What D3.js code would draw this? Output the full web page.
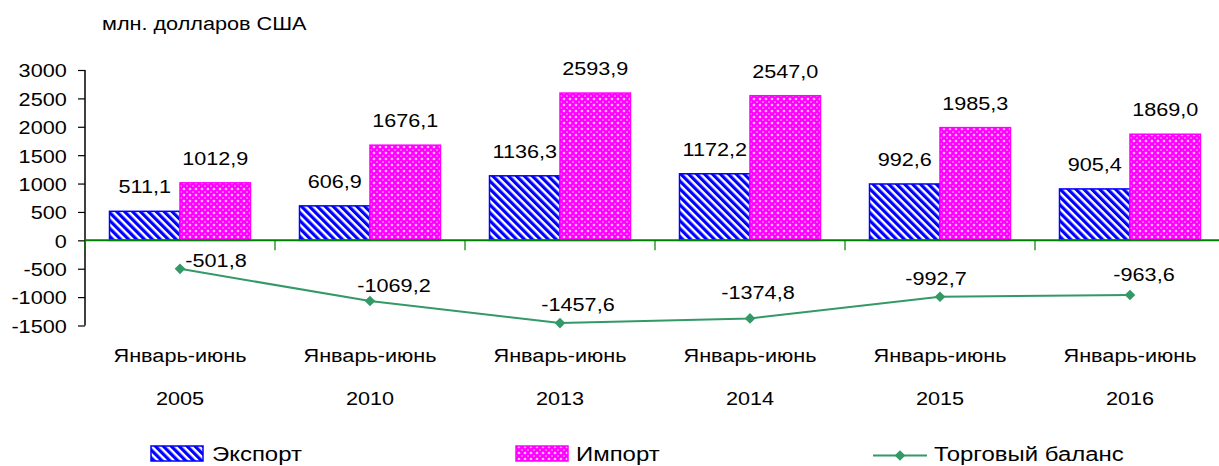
<!DOCTYPE html>
<html>
<head>
<meta charset="utf-8">
<script src="https://cdn.jsdelivr.net/npm/d3@7"></script>
<style>
  html, body { margin: 0; padding: 0; background: #fff; }
  svg text { font-family: "Liberation Sans", Arial, sans-serif; font-size: 19px; fill: #000; }
  svg .legend text { font-size: 21px; }
</style>
</head>
<body>
<svg id="chart"></svg>
<script>
// data
const periods = ['2005', '2010', '2013', '2014', '2015', '2016'];
const periodLabel = 'Январь-июнь';
const exportValues = [511.1, 606.9, 1136.3, 1172.2, 992.6, 905.4];
const importValues = [1012.9, 1676.1, 2593.9, 2547.0, 1985.3, 1869.0];
const balanceValues = [-501.8, -1069.2, -1457.6, -1374.8, -992.7, -963.6];
const yTicks = [-1500, -1000, -500, 0, 500, 1000, 1500, 2000, 2500, 3000];
const seriesNames = ['Экспорт', 'Импорт', 'Торговый баланс'];
const unitTitle = 'млн. долларов США';

// label nudges for the balance line (dx of label centre, dy of baseline from marker)
const balanceNudge = [[36, -2], [24, -9], [18, -12], [8, -19], [-4, -12], [14, -14]];

const width = 1219, height = 466;
const SX = 1.14; // original text is horizontally stretched
const blue = '#0000ff', magenta = '#ff00ff', green = '#339966', axisGreen = '#008000';

const svg = d3.select('#chart').attr('width', width).attr('height', height);

// patterns
const defs = svg.append('defs');
const stripes = defs.append('pattern')
    .attr('id', 'stripes')
    .attr('patternUnits', 'userSpaceOnUse')
    .attr('width', 5.6).attr('height', 5.6)
    .attr('patternTransform', 'rotate(-45)');
stripes.append('rect').attr('width', 5.6).attr('height', 5.6).attr('fill', '#fff');
stripes.append('rect').attr('width', 3.2).attr('height', 5.6).attr('fill', blue);

const dots = defs.append('pattern')
    .attr('id', 'dots')
    .attr('patternUnits', 'userSpaceOnUse')
    .attr('width', 6).attr('height', 6);
dots.append('rect').attr('width', 6).attr('height', 6).attr('fill', magenta);
dots.append('path').attr('d', 'M3,1.4 L4.6,3 L3,4.6 L1.4,3 Z').attr('fill', '#ffd0ff');
dots.append('path').attr('d', 'M0,-0.7 V0.7 M-0.7,0 H0.7 M6,-0.7 V0.7 M5.3,0 H6.7 M0,5.3 V6.7 M-0.7,6 H0.7 M6,5.3 V6.7 M5.3,6 H6.7')
    .attr('stroke', '#ffb0ff').attr('stroke-width', 1);

// scales
const x = d3.scaleBand().domain(periods).range([85, 1225]).padding(0);
const xSub = d3.scaleBand().domain(['export', 'import'])
    .range([24.5, x.bandwidth() - 24.5]).padding(0);
const y = d3.scaleLinear().domain([-1500, 3000]).range([325.5, 70]);

const fmt = v => v.toFixed(1).replace('.', ',');

function stretchText(parent, px, py, txt, anchor, sx) {
    return parent.append('text')
        .attr('transform', `translate(${px},${py}) scale(${sx || SX},1)`)
        .attr('text-anchor', anchor || 'middle')
        .text(txt);
}

// title
stretchText(svg, 102, 30, unitTitle, 'start');

// y axis
const yAxis = svg.append('g')
    .attr('transform', 'translate(85,0)')
    .call(d3.axisLeft(y).tickValues(yTicks).tickSize(7).tickPadding(9).tickFormat(d => String(d)));
yAxis.select('.domain').attr('stroke', '#000').attr('stroke-width', 1.5).attr('d', `M0,${y(3000)}V${y(-1500)}`);
yAxis.selectAll('.tick line').attr('stroke', '#000').attr('stroke-width', 1.2);
yAxis.selectAll('.tick text')
    .attr('transform', `scale(${SX},1)`)
    .attr('dy', '0.36em');
yAxis.attr('font-size', null).attr('font-family', null);

// bars
const groups = svg.selectAll('g.period')
    .data(periods)
    .enter()
    .append('g')
    .attr('class', 'period')
    .attr('transform', d => `translate(${x(d)},0)`);

groups.append('rect')
    .attr('x', xSub('export'))
    .attr('y', (d, i) => y(exportValues[i]))
    .attr('width', xSub.bandwidth())
    .attr('height', (d, i) => y(0) - y(exportValues[i]))
    .attr('fill', 'url(#stripes)')
    .attr('stroke', blue).attr('stroke-width', 1.5);

groups.append('rect')
    .attr('x', xSub('import'))
    .attr('y', (d, i) => y(importValues[i]))
    .attr('width', xSub.bandwidth())
    .attr('height', (d, i) => y(0) - y(importValues[i]))
    .attr('fill', 'url(#dots)')
    .attr('stroke', magenta).attr('stroke-width', 1.5);

groups.each(function (d, i) {
    const g = d3.select(this);
    stretchText(g, xSub('export') + xSub.bandwidth() / 2, y(exportValues[i]) - 18, fmt(exportValues[i]));
    stretchText(g, xSub('import') + xSub.bandwidth() / 2, y(importValues[i]) - 18, fmt(importValues[i]));
    stretchText(g, x.bandwidth() / 2, 362, periodLabel);
    stretchText(g, x.bandwidth() / 2, 405, d);
});

// zero line and category ticks
svg.append('line')
    .attr('x1', 85).attr('x2', width)
    .attr('y1', y(0)).attr('y2', y(0))
    .attr('stroke', axisGreen).attr('stroke-width', 2);
svg.selectAll('line.cat-tick')
    .data(periods)
    .enter()
    .append('line')
    .attr('class', 'cat-tick')
    .attr('x1', d => x(d)).attr('x2', d => x(d))
    .attr('y1', y(0)).attr('y2', y(0) + 10)
    .attr('stroke', axisGreen).attr('stroke-width', 1.2);

// balance line
const cx = d => x(d) + x.bandwidth() / 2;
const line = d3.line()
    .x((d, i) => cx(periods[i]))
    .y(d => y(d));
svg.append('path')
    .datum(balanceValues)
    .attr('d', line)
    .attr('fill', 'none')
    .attr('stroke', green)
    .attr('stroke-width', 2);

const diamond = d3.symbol().type(d3.symbolDiamond2).size(72);
svg.selectAll('path.marker')
    .data(balanceValues)
    .enter()
    .append('path')
    .attr('class', 'marker')
    .attr('d', diamond)
    .attr('transform', (d, i) => `translate(${cx(periods[i])},${y(d)})`)
    .attr('fill', green);

balanceValues.forEach((v, i) => {
    stretchText(svg, cx(periods[i]) + balanceNudge[i][0], y(v) + balanceNudge[i][1], fmt(v));
});

// legend
const legend = svg.append('g').attr('class', 'legend');
legend.append('rect').attr('x', 151).attr('y', 446).attr('width', 52).attr('height', 15)
    .attr('fill', 'url(#stripes)').attr('stroke', blue).attr('stroke-width', 1.5);
stretchText(legend, 212, 461, seriesNames[0], 'start', 1.14);

legend.append('rect').attr('x', 516).attr('y', 446).attr('width', 52).attr('height', 15)
    .attr('fill', 'url(#dots)').attr('stroke', magenta).attr('stroke-width', 1.5);
stretchText(legend, 576, 461, seriesNames[1], 'start', 1.14);

legend.append('line').attr('x1', 873).attr('x2', 927).attr('y1', 455.5).attr('y2', 455.5)
    .attr('stroke', green).attr('stroke-width', 2);
legend.append('path').attr('d', diamond)
    .attr('transform', 'translate(900,455.5)').attr('fill', green);
stretchText(legend, 934, 461, seriesNames[2], 'start', 1.14);
</script>
</body>
</html>
